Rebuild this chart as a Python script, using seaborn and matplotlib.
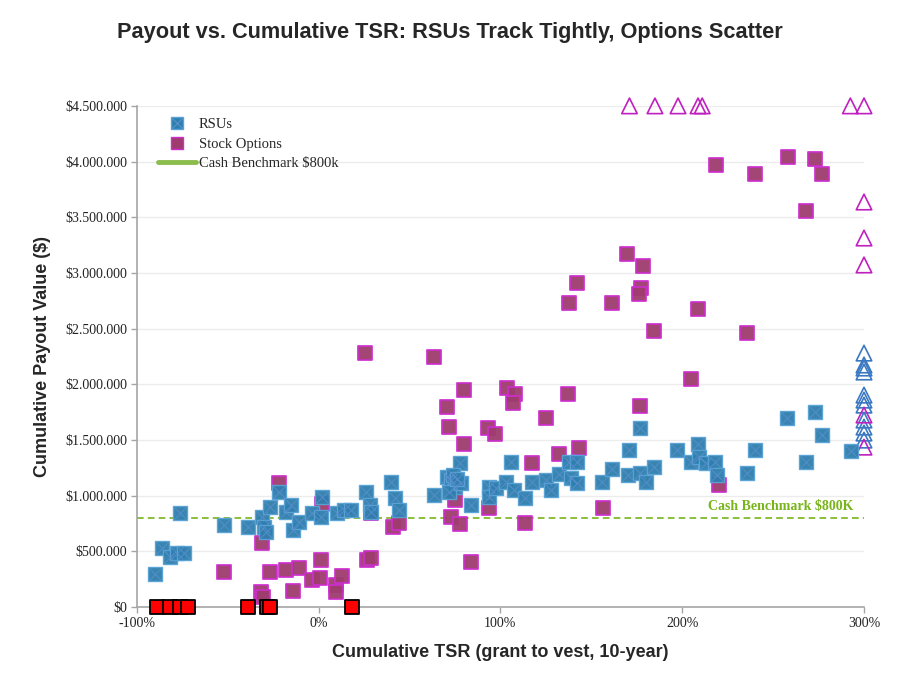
import numpy as np
import pandas as pd
import matplotlib
matplotlib.use("Agg")
import matplotlib.pyplot as plt
import seaborn as sns
from matplotlib.lines import Line2D
from matplotlib.legend_handler import HandlerTuple
from matplotlib.ticker import FuncFormatter

# RSU payouts (cumulative TSR in %, payout in $)
rsu_tsr = [-90, -86, -82, -78, -74, -76, -52, -39, -31, -30, -29, -27, -22, -18, -15, -14,
           -11, -3.6, 2, 1.4, 10, 14, 18, 26, 28, 29, 40, 42, 44, 63.5, 70.6, 73, 75, 72,
           78, 78.5, 74, 76, 84, 94, 94, 97.5, 103, 106, 107.5, 113.5, 117.5, 125, 128,
           132, 138, 142, 139, 142, 156, 161.5, 171, 170, 177, 177, 180, 184.5, 197, 205,
           208.5, 209, 213, 218, 219, 235.6, 240, 257.6, 268, 273, 277, 293]
rsu_pay = [296000, 530000, 449000, 485000, 485000, 844000, 736000, 719000, 808000, 719000,
           674000, 898000, 1033000, 853000, 916000, 692000, 763000, 844000, 988000, 808000,
           844000, 871000, 871000, 1033000, 916000, 853000, 1123000, 979000, 871000, 1006000,
           1168000, 1141000, 1078000, 1033000, 1293000, 1114000, 1186000, 1150000, 916000,
           1078000, 988000, 1069000, 1123000, 1302000, 1051000, 979000, 1123000, 1141000,
           1051000, 1195000, 1302000, 1302000, 1159000, 1114000, 1123000, 1240000, 1410000,
           1186000, 1608000, 1204000, 1123000, 1257000, 1410000, 1302000, 1464000, 1347000,
           1293000, 1302000, 1186000, 1204000, 1410000, 1698000, 1302000, 1752000, 1545000,
           1401000]

# RSUs beyond the x-range (clipped at 300%)
rsu_clip_tsr = [300] * 11
rsu_clip_pay = [2281000, 2174000, 2147000, 2111000, 1904000, 1859000, 1814000, 1680000,
                1617000, 1563000, 1500000]

# Stock option payouts
opt_tsr = [-52, -31.5, -30.5, -31, -27, -18, -11, -14, -3.6, 1.4, 1, 9.6, 9.6, 13, 26.6, 29,
           -22, 2, 29, 41, 44, 70.6, 72, 73, 78, 75, 25.6, 63.5, 142, 138, 161.5, 169.6,
           178.5, 177.4, 176, 184.5, 218.6, 240, 258, 273, 277, 268, 208.6, 235.6, 205,
           176.7, 220, 156.5, 80, 80, 103.6, 108, 107, 93, 97, 125, 137, 132, 143, 117.5,
           94, 113.5, 84]
opt_pay = [314000, 135000, 90000, 575000, 314000, 332000, 350000, 144000, 242000, 422000,
           260000, 197000, 135000, 278000, 422000, 440000, 1114000, 925000, 844000, 719000,
           754000, 1796000, 1617000, 808000, 745000, 961000, 2281000, 2245000, 2910000,
           2731000, 2731000, 3171000, 3063000, 2865000, 2811000, 2479000, 3970000, 3889000,
           4042000, 4024000, 3889000, 3557000, 2677000, 2461000, 2048000, 1805000, 1096000,
           889000, 1949000, 1464000, 1967000, 1913000, 1832000, 1608000, 1554000, 1698000,
           1913000, 1374000, 1428000, 1293000, 889000, 754000, 404000]

# Options beyond the plotted range (clipped at 300% / $4.5M)
opt_clip_tsr = [171, 185, 197.7, 208.7, 211, 292.5, 300, 300, 300, 300, 300, 300]
opt_clip_pay = [4500000, 4500000, 4500000, 4500000, 4500000, 4500000, 4500000,
                3637000, 3314000, 3072000, 1725000, 1437000]

# Underwater options (zero payout)
zero_tsr = [-89, -82, -76, -72, -39, -28.5, -27, 18.5]
zero_pay = [0] * 8

cash_benchmark = 800000
x_ticks = [-100, 0, 100, 200, 300]
y_ticks = [0, 500000, 1000000, 1500000, 2000000, 2500000, 3000000, 3500000, 4000000, 4500000]

rsu_df = pd.DataFrame({"tsr": rsu_tsr, "payout": rsu_pay})
opt_df = pd.DataFrame({"tsr": opt_tsr, "payout": opt_pay})
rsu_clip_df = pd.DataFrame({"tsr": rsu_clip_tsr, "payout": rsu_clip_pay})
opt_clip_df = pd.DataFrame({"tsr": opt_clip_tsr, "payout": opt_clip_pay})
zero_df = pd.DataFrame({"tsr": zero_tsr, "payout": zero_pay})

sns.set_style("white")

blue_fill = "#2d7fad"
blue_edge = "#5aa3d6"
blue_x = "#5b8fcf"
mag_fill = "#9e3c6e"
mag_edge = "#cc2fcc"
green = "#78b41a"

fig = plt.figure(figsize=(9, 6.83), dpi=100)
ax = fig.add_axes([0.152, 0.111, 0.808, 0.734])

sns.scatterplot(data=opt_df, x="tsr", y="payout", ax=ax, marker="s", s=100,
                color=mag_fill, edgecolor=mag_edge, linewidth=1.3, alpha=0.95,
                clip_on=False, zorder=3, legend=False)
sns.scatterplot(data=rsu_clip_df, x="tsr", y="payout", ax=ax, marker="^", s=125,
                facecolor="none", edgecolor="#3a78c2", linewidth=1.2,
                clip_on=False, zorder=3, legend=False)
sns.scatterplot(data=opt_clip_df, x="tsr", y="payout", ax=ax, marker="^", s=125,
                facecolor="none", edgecolor="#c020c0", linewidth=1.2,
                clip_on=False, zorder=3, legend=False)
sns.scatterplot(data=rsu_df, x="tsr", y="payout", ax=ax, marker="s", s=100,
                color=blue_fill, edgecolor=blue_edge, linewidth=1.0, alpha=0.95,
                clip_on=False, zorder=4, legend=False)
sns.scatterplot(data=rsu_df, x="tsr", y="payout", ax=ax, marker="x", s=72,
                color=blue_x, linewidth=0.8, alpha=0.8,
                clip_on=False, zorder=5, legend=False)
sns.scatterplot(data=zero_df, x="tsr", y="payout", ax=ax, marker="s", s=115,
                color="#ff0000", edgecolor="black", linewidth=1.3,
                clip_on=False, zorder=6, legend=False)

ax.axhline(cash_benchmark, color=green, linestyle=(0, (4, 2.5)), linewidth=1.2, zorder=2)
ax.text(294, cash_benchmark + 100000, "Cash Benchmark $800K", color=green,
        fontsize=10, fontweight="bold", family="Liberation Serif", ha="right", va="center")

ax.set_xlim(-100, 300)
ax.set_ylim(0, 4500000)
ax.set_xticks(x_ticks)
ax.set_yticks(y_ticks)
ax.xaxis.set_major_formatter(FuncFormatter(lambda v, p: f"{v:.0f}%"))
ax.yaxis.set_major_formatter(FuncFormatter(lambda v, p: "$" + f"{v:,.0f}".replace(",", ".")))
for lbl in ax.get_xticklabels() + ax.get_yticklabels():
    lbl.set_family("Liberation Serif")
    lbl.set_fontsize(10)
    lbl.set_color("#222222")

ax.grid(axis="y", color="#ececec", linewidth=1)
ax.set_axisbelow(True)
for side in ["top", "right"]:
    ax.spines[side].set_visible(False)
for side in ["left", "bottom"]:
    ax.spines[side].set_color("#a6a6a6")
    ax.spines[side].set_linewidth(1.2)
ax.tick_params(axis="both", length=4, color="#a6a6a6", width=1, direction="out",
               bottom=True, left=True, pad=3)

ax.set_xlabel("Cumulative TSR (grant to vest, 10-year)", fontsize=13, fontweight="bold",
              family="Liberation Sans", labelpad=10)
ax.set_ylabel("Cumulative Payout Value ($)", fontsize=13, fontweight="bold",
              family="Liberation Sans", labelpad=10)

fig.text(0.5, 0.952, "Payout vs. Cumulative TSR: RSUs Track Tightly, Options Scatter",
         ha="center", va="center", fontsize=15.7, fontweight="bold", family="Liberation Sans")

rsu_sq = Line2D([], [], marker="s", linestyle="none", markersize=8,
                markerfacecolor=blue_fill, markeredgecolor=blue_edge)
rsu_xm = Line2D([], [], marker="x", linestyle="none", markersize=7,
                color=blue_x, markeredgewidth=0.8)
opt_sq = Line2D([], [], marker="s", linestyle="none", markersize=8,
                markerfacecolor=mag_fill, markeredgecolor=mag_edge)
cash_ln = Line2D([], [], color="#8cbc4c", linewidth=3.5, solid_capstyle="round")
ax.legend([(rsu_sq, rsu_xm), opt_sq, cash_ln],
          ["RSUs", "Stock Options", "Cash Benchmark $800k"],
          handler_map={tuple: HandlerTuple(ndivide=1)},
          loc="upper left", bbox_to_anchor=(0.021, 0.988), frameon=False,
          prop={"family": "Liberation Serif", "size": 10.5},
          handlelength=2.6, handletextpad=0.2, labelspacing=0.45,
          borderaxespad=0, borderpad=0.4)

fig.savefig("out.png", dpi=100)
